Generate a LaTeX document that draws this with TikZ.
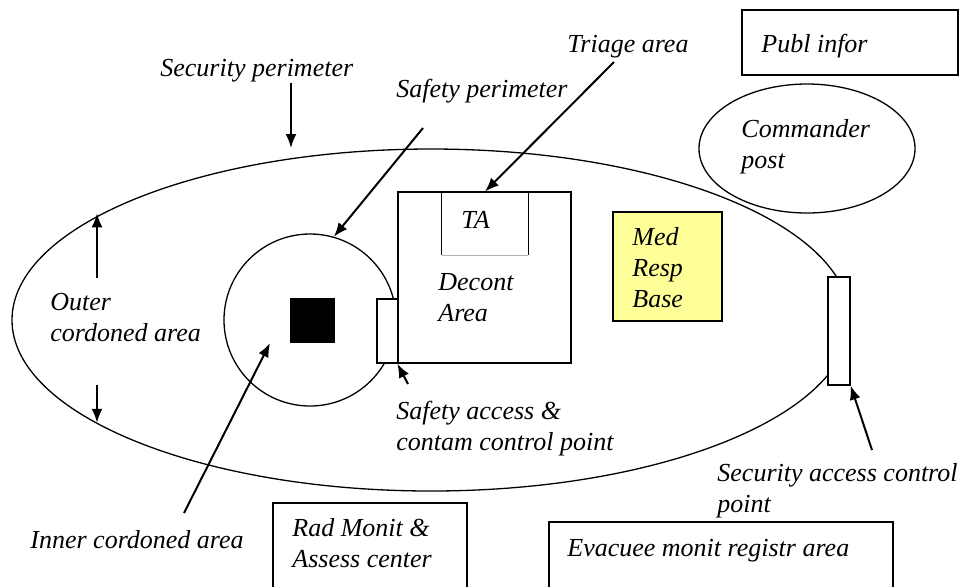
\documentclass[tikz,border=0pt]{standalone}
\usepackage{fontspec}
\setmainfont{Liberation Serif}
\usetikzlibrary{shapes.geometric, arrows.meta}

\definecolor{medyellow}{HTML}{FFFF99}
\tikzstyle{zone}=[draw, line width=0.65pt, inner sep=0pt]
\tikzstyle{box}=[draw, fill=white, line width=0.65pt, inner sep=0pt]
\tikzstyle{lbl}=[anchor=base west, inner sep=0pt, align=left, font=\fontsize{13pt}{15.5pt}\selectfont\itshape]
\tikzstyle{ptr}=[-{Latex[length=7pt, width=5.5pt]}, line width=1pt]

\begin{document}
\begin{tikzpicture}[x=0.5pt, y=-0.5pt]
  \useasboundingbox (0,0) rectangle (968,586);
  \clip (0,0) rectangle (968,586);
  % perimeters and areas
  \node[zone, ellipse, minimum width=419pt, minimum height=171pt] (outer) at (431,320) {};
  \node[zone, circle, minimum size=86pt] (ring) at (310,320) {};
  \node[fill=black, minimum size=22.5pt, inner sep=0pt] (source) at (312.5,320.5) {};
  \node[box, minimum width=10.5pt, minimum height=32pt] (sacp) at (387.5,331) {};
  \node[box, minimum width=86.5pt, minimum height=85.5pt] (decont) at (484.5,277.5) {};
  \node[minimum width=43pt, minimum height=31.5pt, inner sep=0pt] (ta) at (485,223.5) {};
  \draw[line width=0.65pt] (ta.south west) -- (ta.north west) -- (ta.north east) -- (ta.south east);
  \draw[gray!60, line width=0.65pt] (ta.south west) -- (ta.south east);
  \node[box, fill=medyellow, minimum width=54.5pt, minimum height=54.5pt] (medbase) at (667.5,266.5) {};
  \node[box, minimum width=11pt, minimum height=54pt] (secacp) at (839,331) {};
  \node[box, minimum width=108pt, minimum height=32.5pt] (publ) at (850,42.5) {};
  \node[zone, ellipse, minimum width=108pt, minimum height=64.5pt] (cpost) at (807,148.5) {};
  \node[box, minimum width=97pt, minimum height=50pt] (rad) at (370,553) {};
  \node[box, minimum width=172pt, minimum height=50pt] (evac) at (721,572) {};

  % texts (multi-line ones sit on their last line)
  \node[lbl] (secper) at (160,76) {Security perimeter};
  \node[lbl] (safper) at (396,97) {Safety perimeter};
  \node[lbl] (triage) at (567,52) {Triage area};
  \node[lbl] (publtxt) at (761,52) {Publ infor};
  \node[lbl] (cposttxt) at (741,168) {Commander\\post};
  \node[lbl] (tatxt) at (461,228) {TA};
  \node[lbl] (decontxt) at (438,321) {Decont\\Area};
  \node[lbl] (medtxt) at (632,307) {Med\\Resp\\Base};
  \node[lbl] (outertxt) at (50,341) {Outer\\cordoned area};
  \node[lbl] (sacptxt) at (396,450) {Safety access \&\\contam control point};
  \node[lbl] (innertxt) at (30,548) {Inner cordoned area};
  \node[lbl] (radtxt) at (292,567) {Rad Monit \&\\Assess center};
  \node[lbl] (secacptxt) at (717,512) {Security access control\\point};
  \node[lbl] (evactxt) at (567,556) {Evacuee monit registr area};

  % pointers
  \coordinate (secper-from) at (291,83);
  \coordinate (secper-to) at (291,148);
  \coordinate (safper-from) at (423,128);
  \coordinate (triage-from) at (614,62);
  \coordinate (outer-up) at (97,278);
  \coordinate (outer-down) at (97,385);
  \coordinate (inner-from) at (184,513);
  \coordinate (inner-to) at (270,343);
  \coordinate (sacp-from) at (408,384);
  \coordinate (secacp-from) at (872,450);
  \draw[ptr] (secper-from) -- (secper-to);
  \draw[ptr] (safper-from) -- (ring.74);
  \draw[ptr] (triage-from) -- (ta.north);
  \draw[ptr] (outer-up) -- (outer-up |- outer.162.7);
  \draw[ptr] (outer-down) -- (outer-down |- outer.197.3);
  \draw[ptr] (inner-from) -- (inner-to);
  \draw[ptr] (sacp-from) -- (decont.south west);
  \draw[ptr] (secacp-from) -- (secacp.south east);
\end{tikzpicture}
\end{document}
